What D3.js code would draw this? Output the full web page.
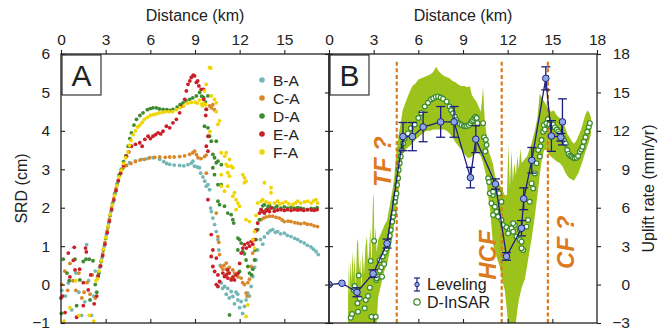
<!DOCTYPE html>
<html>
<head>
<meta charset="utf-8">
<script src="https://cdn.jsdelivr.net/npm/d3@7"></script>
<style>
    body { margin: 0; background: #fff; }
    svg text { font-family: "Liberation Sans", Arial, Helvetica, sans-serif; }
</style>
</head>
<body>
<svg id="chart" width="670" height="330"></svg>
<script>
// ---- panel A: SRD (cm) vs distance (km), [km, cm]
const srdBA = [
    [0.05, -0.15], [0.3, -0.3], [0.49, 0.04], [0.72, -0.66], [1.0, 0.3], [1.2, -0.2], [1.38, -0.8], [1.6, -0.45],
    [1.72, 1.04], [1.85, 0.1], [2.05, -0.8], [2.2, -0.3], [2.3, 0.35],
    [2.45, 0.2], [2.6, 0.45], [2.75, 0.7], [2.9, 1.0], [3.05, 1.3], [3.2, 1.6], [3.35, 1.9], [3.5, 2.15], [3.65, 2.4],
    [3.8, 2.65], [3.95, 2.85], [4.1, 3.0], [4.3, 3.1],
    [4.6, 3.17], [5.0, 3.22], [5.4, 3.26], [5.8, 3.28], [6.2, 3.3], [6.63, 3.26], [6.9, 3.2], [7.1, 3.15], [7.3, 3.13],
    [7.6, 3.11], [7.97, 3.1], [8.25, 3.09], [8.53, 3.12], [8.75, 3.16], [8.86, 3.21], [8.97, 3.08], [9.15, 3.06],
    [9.3, 3.04], [9.38, 2.9], [9.53, 2.8], [9.65, 2.69], [9.76, 2.56], [9.87, 2.6], [9.98, 2.47],
    [10.05, 1.99], [10.1, 1.9], [10.2, 1.73], [10.32, 1.56], [10.43, 1.38], [10.54, 1.17], [10.6, 0.9], [10.7, 0.5],
    [10.76, 0.04], [10.85, -0.1], [10.99, -0.05], [11.1, -0.25], [11.2, -0.1], [11.3, -0.35], [11.43, -0.18],
    [11.54, -0.31], [11.65, -0.5], [11.76, -0.2], [11.87, -0.25], [11.88, -0.4], [12.0, -0.6], [12.1, -0.44],
    [12.2, -0.75], [12.32, -0.57], [12.43, -0.4], [12.55, -0.22], [12.66, -0.3], [12.77, -0.05], [12.88, 0.21],
    [13.0, 0.45], [13.1, 0.64], [13.21, 0.9], [13.4, 1.17], [13.55, 1.05], [13.66, 1.24], [13.89, 1.34], [14.05, 1.4],
    [14.22, 1.43], [14.4, 1.36], [14.55, 1.38], [14.75, 1.32], [15.0, 1.34], [15.2, 1.28], [15.45, 1.25], [15.7, 1.2],
    [15.9, 1.17], [16.1, 1.12], [16.34, 1.08], [16.55, 1.02], [16.79, 0.98], [16.95, 0.92], [17.13, 0.86], [17.28, 0.78]
]
const srdCA = [
    [0.05, 0.0], [0.25, 0.35], [0.45, -0.15], [0.6, 0.55], [0.8, 0.1], [1.0, -0.15], [1.2, 0.3], [1.4, -0.35],
    [1.55, -0.2], [1.75, 0.05], [1.95, -0.25], [2.1, 0.25], [2.3, -0.35],
    [2.5, 0.25], [2.65, 0.5], [2.8, 0.8], [2.95, 1.1], [3.1, 1.4], [3.25, 1.7], [3.4, 2.0], [3.55, 2.25], [3.7, 2.5],
    [3.85, 2.72], [4.0, 2.9], [4.2, 3.05],
    [4.4, 3.1], [4.7, 3.15], [5.0, 3.2], [5.3, 3.24], [5.6, 3.26], [5.96, 3.3], [6.3, 3.31], [6.63, 3.32], [7.0, 3.31],
    [7.3, 3.32], [7.6, 3.32], [7.97, 3.33], [8.3, 3.35], [8.64, 3.39], [8.85, 3.43], [8.97, 3.47], [9.1, 3.38],
    [9.2, 3.3], [9.4, 3.28], [9.64, 3.33], [9.75, 3.37],
    [9.98, 4.65], [10.1, 4.6], [10.2, 4.68], [10.3, 4.55],
    [9.76, 2.9], [10.43, 1.86], [10.54, 1.25], [10.6, 1.1], [10.65, 0.78], [10.76, 0.47], [10.87, 0.4], [10.95, 0.5],
    [11.1, 0.4], [11.1, 0.56], [11.2, 0.3], [11.3, 0.45], [11.43, 0.16], [11.54, 0.38], [11.65, 0.3], [11.76, 0.25],
    [11.9, 0.2], [12.1, 0.17], [12.2, 0.05], [12.32, 0.0], [12.43, -0.22], [12.5, -0.3], [12.55, 0.05], [12.66, 0.14],
    [12.77, 0.47], [12.88, 0.82], [12.95, 1.17], [13.1, 1.43], [13.21, 1.6], [13.44, 1.69], [13.6, 1.73], [13.78, 1.76],
    [14.0, 1.78], [14.22, 1.78], [14.45, 1.75], [14.67, 1.73], [14.85, 1.68], [15.0, 1.64], [15.25, 1.65], [15.45, 1.64],
    [15.7, 1.61], [15.9, 1.6], [16.1, 1.58], [16.34, 1.6], [16.55, 1.57], [16.79, 1.56], [17.0, 1.53], [17.23, 1.51]
]
const srdDA = [
    [0.02, -0.75], [0.15, 0.66], [0.4, 0.3], [0.55, 0.1], [0.94, 0.66], [1.05, -0.55], [1.27, 0.12], [1.5, 0.6],
    [1.68, 0.66], [1.9, 0.66], [1.95, -0.4], [2.15, 0.62], [2.3, 0.0], [2.4, -0.2],
    [2.55, 0.3], [2.7, 0.6], [2.85, 0.9], [3.0, 1.2], [3.15, 1.5], [3.3, 1.8], [3.45, 2.1], [3.6, 2.35], [3.75, 2.6],
    [3.9, 2.85], [4.05, 3.0], [4.2, 3.2],
    [4.35, 3.35], [4.51, 3.6], [4.62, 3.8], [4.73, 3.95], [4.9, 4.15], [5.07, 4.3], [5.3, 4.4], [5.51, 4.47], [5.8, 4.55],
    [6.0, 4.58], [6.18, 4.6], [6.4, 4.6], [6.6, 4.57], [6.85, 4.56], [7.1, 4.55], [7.3, 4.53], [7.52, 4.56], [7.8, 4.62],
    [8.0, 4.68], [8.19, 4.73], [8.4, 4.78], [8.64, 4.82], [8.85, 4.86], [9.09, 4.91], [9.31, 5.0], [9.45, 4.9],
    [9.58, 4.87], [9.7, 4.75],
    [9.87, 4.91], [9.76, 4.56], [9.64, 4.12], [9.87, 4.08], [9.98, 3.86], [10.09, 3.73], [10.43, 3.73], [10.2, 3.39],
    [10.31, 3.3], [10.43, 3.17], [10.54, 3.21], [10.77, 3.12], [10.2, 3.04], [10.31, 2.86], [10.54, 2.6], [10.76, 2.6],
    [10.54, 2.17], [10.65, 2.08], [10.98, 2.04], [11.2, 1.86], [11.43, 1.82], [11.54, 1.69], [11.6, 1.6], [11.88, 1.21],
    [11.99, 1.17], [12.1, 1.08], [12.21, 0.86], [12.32, 0.8], [12.43, 0.64], [12.55, 0.47], [12.66, 0.3], [12.8, 0.25],
    [12.88, 0.4], [13.0, 0.64], [13.03, 0.9], [13.1, 1.17], [13.21, 1.43], [13.33, 1.69], [13.44, 1.95], [13.55, 2.05],
    [13.66, 2.08], [13.78, 1.95], [13.9, 2.02], [14.0, 2.08], [14.15, 2.0], [14.33, 1.99], [14.5, 2.04], [14.77, 1.99],
    [15.0, 2.02], [15.22, 1.99], [15.45, 2.01], [15.67, 1.99], [15.9, 2.0], [16.1, 1.99], [16.3, 1.97], [16.55, 1.95],
    [16.8, 1.98], [17.0, 1.97], [17.2, 2.0],
    [11.32, -0.79], [11.99, 0.34], [11.88, 0.9]
]
const srdEA = [
    [0.0, -0.35], [0.1, -0.3], [0.27, -0.73], [0.49, 0.82], [0.6, 0.2], [0.83, 0.63], [0.89, 0.97], [0.94, 0.38],
    [1.05, -0.85], [1.25, 0.4], [1.5, -0.55], [1.5, 0.05], [1.65, 0.95], [1.7, 0.85], [1.83, -0.14], [2.0, 0.25],
    [2.23, -0.5], [2.4, -0.3],
    [2.5, 0.22], [2.65, 0.48], [2.8, 0.75], [2.95, 1.05], [3.1, 1.35], [3.25, 1.65], [3.4, 1.95], [3.55, 2.2],
    [3.7, 2.45], [3.85, 2.7], [4.0, 2.9], [4.2, 3.1],
    [4.4, 3.34], [4.55, 3.45], [4.73, 3.6], [5.0, 3.65], [5.29, 3.69], [5.45, 3.6], [5.63, 3.78], [5.85, 3.86],
    [6.0, 3.8], [6.18, 3.86], [6.35, 3.9], [6.52, 3.95], [6.7, 3.92], [6.85, 3.99], [7.08, 4.12], [7.3, 4.08],
    [7.52, 4.21], [7.75, 4.3], [7.97, 4.47], [8.15, 4.65], [8.31, 4.82], [8.42, 5.04], [8.53, 5.21], [8.65, 5.3],
    [8.75, 5.39], [8.88, 5.45], [8.97, 5.43], [9.09, 5.26], [9.18, 5.3], [9.26, 5.17], [9.42, 5.08], [9.58, 5.08],
    [9.58, 4.82], [9.72, 4.4], [9.76, 4.56], [9.87, 3.86], [9.76, 3.6], [9.87, 3.47],
    [9.87, 2.21], [10.09, 1.3], [10.2, 0.9], [10.09, 0.73], [10.43, 0.69], [10.2, 0.47], [10.32, 0.34], [10.54, 0.25],
    [10.65, 0.08], [10.43, 0.0], [10.54, -0.05], [10.87, 0.3], [10.98, 0.21], [11.1, 0.25], [11.2, 0.17], [11.2, 0.38],
    [11.3, 0.3], [11.43, 0.12], [11.55, 0.2], [11.65, 0.12], [11.76, 0.25], [11.9, 0.3], [12.0, 0.55], [12.1, 0.82],
    [12.21, 0.95], [12.32, 1.04], [12.45, 0.95], [12.55, 1.08], [12.66, 1.0], [12.77, 1.12], [12.88, 1.05], [13.0, 1.17],
    [13.1, 1.4], [13.21, 1.6], [13.33, 1.86], [13.44, 1.95], [13.55, 1.9], [13.66, 1.86], [13.78, 1.92], [13.89, 1.95],
    [14.0, 1.9], [14.11, 1.99], [14.33, 1.91], [14.55, 1.94], [14.77, 1.95], [15.0, 1.93], [15.22, 1.95], [15.45, 1.93],
    [15.67, 1.95], [15.9, 1.94], [16.1, 1.95], [16.3, 1.93], [16.55, 1.95], [16.8, 1.94], [17.0, 1.93], [17.2, 1.95]
]
const srdFA = [
    [0.2, -0.95], [0.6, -0.6], [1.0, 0.1], [1.2, -0.8], [1.9, -0.8], [2.2, -0.95], [2.35, 0.1],
    [2.45, 0.15], [2.55, 0.35], [2.7, 0.62], [2.85, 0.92], [3.0, 1.22], [3.15, 1.52], [3.3, 1.82], [3.45, 2.08],
    [3.6, 2.33], [3.75, 2.58], [3.9, 2.8], [4.05, 2.98], [4.2, 3.15],
    [4.35, 3.3], [4.5, 3.45], [4.6, 3.62], [4.7, 3.75], [4.85, 3.9], [5.0, 4.0], [5.15, 4.1], [5.3, 4.15], [5.45, 4.22],
    [5.6, 4.3], [5.8, 4.35], [6.0, 4.4], [6.2, 4.42], [6.4, 4.44], [6.6, 4.47], [6.8, 4.48], [7.0, 4.5], [7.25, 4.5],
    [7.5, 4.5], [7.75, 4.55], [8.0, 4.6], [8.25, 4.65], [8.5, 4.72], [8.75, 4.74], [9.0, 4.75], [9.15, 4.72], [9.3, 4.8],
    [9.45, 4.7], [9.5, 4.65], [9.6, 4.72], [9.7, 4.68],
    [9.98, 5.65], [10.05, 5.63], [9.76, 5.21], [9.64, 5.04], [10.09, 4.91], [10.31, 4.82], [10.43, 4.73], [10.43, 4.5],
    [10.65, 4.26], [10.54, 4.17], [10.0, 3.98], [10.76, 3.43], [11.1, 3.43], [11.0, 3.34], [11.32, 3.26], [11.43, 3.08],
    [11.54, 3.04], [10.76, 2.86], [11.2, 2.91], [11.32, 2.82], [12.32, 2.78], [12.43, 2.69], [11.2, 2.56], [10.76, 2.56],
    [11.1, 3.13], [11.2, 3.08], [12.21, 2.86], [12.32, 2.65], [13.66, 2.65], [14.11, 2.52], [14.11, 2.39], [10.98, 2.43],
    [11.65, 2.39], [11.54, 2.3], [11.76, 2.21], [11.88, 2.12], [11.99, 2.04], [11.76, 1.95], [12.43, 1.69], [12.66, 1.64],
    [13.0, 1.38], [12.88, 1.17], [13.0, 0.95], [12.55, -0.53], [12.43, -0.83],
    [13.1, 1.8], [13.21, 2.12], [13.44, 2.17], [13.55, 2.21], [13.78, 2.15], [14.0, 2.12], [14.33, 2.12], [14.55, 2.17],
    [14.7, 2.1], [14.88, 2.12], [15.1, 2.15], [15.3, 2.1], [15.56, 2.08], [15.75, 2.12], [15.9, 2.17], [16.1, 2.12],
    [16.35, 2.15], [16.57, 2.17], [16.8, 2.12], [16.95, 2.18], [17.13, 2.21], [17.23, 2.12]
]
const pairNames = ["B-A", "C-A", "D-A", "E-A", "F-A"]
const pairColours = ["#72b7b5", "#d9872b", "#3e8b30", "#c81f28", "#f0d500"]

// ---- panel B: uplift rate (mm/yr)
const levelKm = [0, 0.87, 1.88, 2.96, 3.9, 4.97, 5.6, 6.32, 7.5, 8.4, 9.5, 9.86, 11.18, 11.92, 12.93, 13.08, 13.62, 14.56, 14.94, 15.57, 15.68]
const levelRate = [0, 0.1, -0.6, 0.85, 3.2, 11.55, 11.55, 12.3, 12.7, 12.7, 8.35, 11.35, 7.85, 2.2, 4.4, 6.7, 9.7, 16.1, 11.6, 11.5, 12.7]
const levelErr = [0.05, 0.05, 0.35, 0.3, 0.35, 1.1, 1.1, 1.15, 1.2, 1.2, 0.8, 1.05, 0.4, 0.3, 0.6, 0.85, 1.0, 0.9, 1.2, 0.3, 1.8]

const insar = [
    [1.46, -2.59], [1.55, -2.3], [1.66, -0.42], [1.73, -0.11], [1.91, -1.46], [1.95, -2.12], [2.0, 0.7], [2.06, -1.07],
    [2.4, -1.85], [2.47, -1.2], [2.62, -0.89], [2.74, -0.24], [2.8, 1.84], [2.85, -2.51], [3.03, 3.4], [3.14, -2.51],
    [3.18, 0.36], [3.3, 0.6], [3.41, 1.08], [3.52, 1.35], [3.56, 0.62], [3.7, 1.6],
    [3.2, 0.5], [3.4, 1.9], [3.6, 2.2], [3.75, 2.5], [3.86, 2.8], [3.95, 3.1], [4.0, 3.35], [4.08, 3.8], [4.15, 4.26],
    [4.24, 4.9], [4.3, 5.3], [4.35, 5.6], [4.42, 6.47], [4.47, 6.8], [4.53, 7.1], [4.57, 7.77], [4.64, 8.3], [4.68, 8.94],
    [4.75, 9.47], [4.82, 10.0], [4.88, 10.5], [4.97, 11.0], [5.08, 11.4],
    [5.3, 11.8], [5.5, 12.2], [5.76, 12.5], [6.0, 13.0], [6.2, 13.4], [6.43, 13.9], [6.65, 14.2], [6.85, 14.45], [7.0, 14.55],
    [7.17, 14.65], [7.33, 14.67], [7.5, 14.6], [7.66, 14.5], [7.9, 14.28], [8.1, 13.9], [8.2, 13.6], [8.33, 13.37],
    [8.45, 13.1], [8.56, 12.85], [8.67, 12.65], [8.78, 12.53], [8.9, 12.45], [9.05, 12.38], [9.15, 12.36], [9.27, 12.38],
    [9.4, 12.45], [9.5, 12.6], [9.6, 12.75], [9.68, 12.85], [9.76, 13.0], [9.84, 13.1], [9.92, 13.0], [9.97, 12.6],
    [10.35, 12.6], [10.42, 11.5], [10.53, 11.3], [10.58, 10.9], [10.5, 10.4], [10.69, 8.3], [10.75, 8.0], [10.9, 7.12],
    [11.0, 7.0], [10.8, 7.12], [11.02, 7.25], [10.91, 6.34], [11.14, 6.08], [11.25, 5.69], [11.02, 5.43], [11.36, 5.3],
    [11.58, 5.04], [11.69, 4.65], [11.92, 4.47], [12.14, 4.26], [12.26, 4.39], [12.37, 4.13], [12.03, 4.0], [12.48, 4.65],
    [12.59, 3.74], [12.82, 3.48], [12.93, 3.35], [11.58, 6.47], [11.42, 7.12], [12.37, 4.78], [12.82, 4.26], [13.04, 2.7],
    [12.93, 2.83], [13.27, 4.52], [13.37, 5.04], [13.48, 6.47], [13.6, 7.9], [13.71, 7.5], [13.82, 8.68], [13.94, 9.47],
    [14.05, 10.5], [14.16, 10.0], [14.2, 10.8], [14.27, 11.28], [14.38, 11.93], [14.43, 12.45], [14.5, 12.1], [14.6, 12.6],
    [14.7, 12.9], [14.8, 12.5], [14.94, 12.3], [15.05, 12.5], [15.17, 12.27], [15.3, 12.1], [15.4, 11.95], [15.5, 11.8],
    [15.6, 11.6], [15.72, 11.4], [15.8, 11.2], [15.9, 11.0], [16.0, 10.5], [16.1, 10.2], [16.2, 10.05], [16.3, 10.0],
    [16.4, 9.9], [16.5, 9.86], [16.62, 9.9], [16.73, 10.04], [16.85, 10.37], [16.95, 10.55], [17.03, 10.76],
    [17.12, 11.15], [17.23, 11.5], [17.34, 11.93], [17.45, 12.3], [17.52, 12.6]
]

// [km, low, high] of the D-InSAR uncertainty band
const insarBand = [
    [1.28, -3.5, 1.8], [1.35, -3.5, -1.0], [1.42, -3.5, 1.9], [1.5, -3.5, 0.2], [1.58, -3.5, 2.6], [1.65, -3.5, 0.5],
    [1.72, -3.5, 2.3], [1.8, -3.5, -0.2], [1.88, -3.5, 3.2], [1.95, -3.5, 3.6], [2.02, -3.5, 1.0], [2.1, -3.5, 2.0],
    [2.18, -3.5, -0.5], [2.25, -3.5, 2.6], [2.35, -3.5, 0.8], [2.45, -3.5, 3.0], [2.55, -3.5, 3.8], [2.62, -3.5, 1.5],
    [2.7, -3.5, 2.8], [2.78, -3.5, 4.5], [2.85, -3.5, 1.2], [2.95, -3.5, 6.5], [3.0, -3.5, 7.2], [3.05, -3.5, 3.0],
    [3.12, -3.5, 4.5], [3.2, -3.0, 2.5], [3.3, -1.0, 3.5], [3.5, 0.0, 4.0], [3.7, 1.0, 4.6], [3.9, 1.6, 5.0],
    [4.05, 2.4, 6.0], [4.2, 3.5, 7.0], [4.35, 4.5, 8.0], [4.5, 5.8, 10.0], [4.65, 7.0, 11.5], [4.8, 8.8, 12.5],
    [4.95, 10.2, 13.6], [5.2, 10.6, 14.4], [5.4, 10.8, 15.0], [5.6, 11.0, 15.5], [5.8, 11.3, 15.7], [6.0, 11.5, 16.0],
    [6.2, 11.7, 16.1], [6.4, 11.9, 16.2], [6.6, 12.0, 16.3], [6.8, 12.0, 16.4], [7.0, 12.1, 16.6], [7.2, 12.1, 17.0],
    [7.35, 12.1, 16.7], [7.5, 12.1, 16.5], [7.7, 12.1, 16.3], [7.9, 12.0, 16.2], [8.1, 11.8, 16.1], [8.3, 11.5, 15.9],
    [8.5, 11.1, 15.8], [8.7, 10.8, 15.6], [8.9, 10.5, 15.5], [9.1, 10.2, 15.5], [9.3, 9.9, 15.4], [9.45, 9.9, 15.5],
    [9.6, 10.0, 14.8], [9.75, 10.2, 14.5], [9.9, 10.4, 14.3], [10.05, 10.3, 13.9], [10.2, 10.0, 13.5],
    [10.35, 9.5, 15.4], [10.45, 9.0, 13.0], [10.55, 8.5, 12.0], [10.7, 6.8, 10.5], [10.85, 5.5, 10.0],
    [11.0, 3.2, 9.5], [11.15, 2.5, 8.5], [11.3, 2.0, 8.0], [11.47, 1.4, 7.8], [11.6, 0.5, 7.5], [11.8, -0.4, 7.0],
    [11.95, -2.0, 7.0], [12.05, -3.5, 10.9], [12.15, -3.5, 7.5], [12.25, -3.5, 10.5], [12.35, -3.5, 8.0],
    [12.45, -3.5, 9.5], [12.55, -3.0, 8.5], [12.65, -2.0, 10.0], [12.75, -1.2, 9.0], [12.85, -0.7, 10.6],
    [12.95, -0.2, 9.5], [13.15, 0.4, 9.8], [13.3, 1.4, 10.0], [13.45, 2.5, 10.5], [13.6, 3.5, 11.0], [13.82, 5.3, 12.0],
    [14.0, 7.0, 13.0], [14.15, 8.5, 14.9], [14.3, 9.8, 14.6], [14.45, 10.5, 14.3], [14.6, 10.5, 14.0], [14.75, 10.2, 13.8],
    [14.9, 10.0, 13.5], [15.1, 9.8, 13.6], [15.3, 9.6, 13.2], [15.5, 9.5, 13.0], [15.7, 9.2, 12.8], [15.85, 8.8, 12.3],
    [16.0, 8.5, 11.8], [16.15, 8.3, 11.5], [16.3, 8.2, 11.2], [16.45, 8.1, 11.0], [16.6, 8.4, 11.2], [16.75, 8.7, 11.6],
    [16.9, 9.2, 12.0], [17.05, 9.7, 12.6], [17.2, 10.3, 13.2], [17.35, 10.8, 13.6], [17.5, 11.3, 13.4], [17.6, 11.8, 13.0]
]

const faults = [
    { km: 4.55, name: "TF ?", at: 9.6 },
    { km: 11.6, name: "HCF", at: 2.3 },
    { km: 14.7, name: "CF ?", at: 3.3 }
]

const kmTicks = [0, 3, 6, 9, 12, 15, 18]
const srdTicks = [-1, 0, 1, 2, 3, 4, 5, 6]
const rateTicks = [-3, 0, 3, 6, 9, 12, 15, 18]

// ---- layout
const ink = "#222"
const faultColour = "#dc7a21"
const plotTop = 54, plotBottom = 323
const tickFont = 15.5, titleFont = 16

const xA = d3.scaleLinear().domain([0, 18]).range([61, 329])
const yA = d3.scaleLinear().domain([-1, 6]).range([plotBottom, plotTop])
const xB = d3.scaleLinear().domain([0, 18]).range([329, 597])
const yB = d3.scaleLinear().domain([-3, 18]).range([plotBottom, plotTop])

const svg = d3.select("#chart")

function styleAxis(g) {
    g.attr("font-family", null).attr("font-size", null)
    g.select(".domain").remove()
    g.selectAll("line").attr("stroke", ink).attr("stroke-width", 1.1)
    g.selectAll("text").attr("font-size", tickFont).attr("fill", ink)
}

// ---- panel A
const gA = svg.append("g")

pairNames.forEach((name, i) => {
    const pts = [srdBA, srdCA, srdDA, srdEA, srdFA][i]
    gA.append("g")
        .selectAll("circle")
        .data(pts)
        .join("circle")
        .attr("cx", (d) => xA(d[0]))
        .attr("cy", (d) => yA(d[1]))
        .attr("r", 1.9)
        .attr("fill", pairColours[i])
})

gA.append("g").attr("transform", `translate(0,${plotTop})`)
    .call(d3.axisTop(xA).tickValues(kmTicks.slice(0, 6)).tickSize(4).tickPadding(5)).call(styleAxis)
gA.append("g").attr("transform", "translate(61,0)")
    .call(d3.axisLeft(yA).tickValues(srdTicks).tickFormat(d3.format("d")).tickSize(-4).tickPadding(11)).call(styleAxis)
gA.append("g").attr("transform", `translate(0,${plotBottom})`)
    .call(d3.axisBottom(xA).tickValues(kmTicks.slice(1, 6)).tickSize(-4).tickFormat("")).call(styleAxis)
gA.append("g").attr("transform", "translate(329,0)")
    .call(d3.axisRight(yA).tickValues(srdTicks).tickSize(-4).tickFormat("")).call(styleAxis)

gA.append("text").attr("x", 195).attr("y", 21).attr("text-anchor", "middle")
    .attr("font-size", titleFont).attr("fill", ink).text("Distance (km)")
gA.append("text").attr("transform", "translate(27,188.5) rotate(-90)").attr("text-anchor", "middle")
    .attr("font-size", titleFont).attr("fill", ink).text("SRD (cm)")

const legA = gA.append("g")
    .selectAll("g")
    .data(pairNames)
    .join("g")
    .attr("transform", (d, i) => `translate(262,${80 + i * 18})`)
legA.append("circle").attr("r", 2.8).attr("fill", (d, i) => pairColours[i])
legA.append("text").attr("x", 11).attr("dy", "0.36em").attr("font-size", 15.5).attr("fill", ink).text((d) => d)

// ---- panel B
const gB = svg.append("g")
svg.append("defs").append("clipPath").attr("id", "clipB")
    .append("rect").attr("x", 329).attr("y", plotTop).attr("width", 268).attr("height", plotBottom - plotTop)

const plotB = gB.append("g").attr("clip-path", "url(#clipB)")

plotB.append("path")
    .datum(insarBand)
    .attr("fill", "#9cc31c")
    .attr("d", d3.area().x((d) => xB(d[0])).y0((d) => yB(d[1])).y1((d) => yB(d[2])))

plotB.append("g")
    .selectAll("line")
    .data(faults)
    .join("line")
    .attr("x1", (d) => xB(d.km)).attr("x2", (d) => xB(d.km))
    .attr("y1", yB(17.4)).attr("y2", plotBottom)
    .attr("stroke", faultColour).attr("stroke-width", 2.2).attr("stroke-dasharray", "4,2.6")

plotB.append("g")
    .selectAll("circle")
    .data(insar)
    .join("circle")
    .attr("cx", (d) => xB(d[0]))
    .attr("cy", (d) => yB(d[1]))
    .attr("r", 2.4)
    .attr("fill", "#fff")
    .attr("stroke", "#3a8a2c")
    .attr("stroke-width", 1.2)

const levelling = levelKm.map((km, i) => ({ km, rate: levelRate[i], err: levelErr[i] }))
const navy = "#1d1f7c"

plotB.append("path")
    .datum(levelling)
    .attr("fill", "none").attr("stroke", navy).attr("stroke-width", 1.3)
    .attr("d", d3.line().x((d) => xB(d.km)).y((d) => yB(d.rate)))

const bars = plotB.append("g")
    .selectAll("g")
    .data(levelling.filter((d) => d.err > 0.2))
    .join("g")
    .attr("stroke", navy).attr("stroke-width", 1.3)
bars.append("line")
    .attr("x1", (d) => xB(d.km)).attr("x2", (d) => xB(d.km))
    .attr("y1", (d) => yB(d.rate - d.err)).attr("y2", (d) => yB(d.rate + d.err))
bars.selectAll("line.cap")
    .data((d) => [d.rate - d.err, d.rate + d.err].map((v) => ({ km: d.km, v })))
    .join("line")
    .attr("class", "cap")
    .attr("x1", (d) => xB(d.km) - 4.5).attr("x2", (d) => xB(d.km) + 4.5)
    .attr("y1", (d) => yB(d.v)).attr("y2", (d) => yB(d.v))

plotB.append("g")
    .selectAll("circle")
    .data(levelling)
    .join("circle")
    .attr("cx", (d) => xB(d.km))
    .attr("cy", (d) => yB(d.rate))
    .attr("r", 3.3)
    .attr("fill", "#8da8e4")
    .attr("stroke", navy)
    .attr("stroke-width", 1)

gB.append("g")
    .selectAll("text")
    .data(faults)
    .join("text")
    .attr("transform", (d, i) => {
        const x = [382, 487, 565][i]
        return `translate(${x},${yB(d.at)}) rotate(-90)`
    })
    .attr("text-anchor", "middle").attr("dy", "0.36em")
    .attr("font-size", 24).attr("font-weight", "bold").attr("font-style", "italic")
    .attr("fill", faultColour)
    .text((d) => d.name)

gB.append("g").attr("transform", `translate(0,${plotTop})`)
    .call(d3.axisTop(xB).tickValues(kmTicks).tickSize(4).tickPadding(5)).call(styleAxis)
gB.append("g").attr("transform", "translate(329,0)")
    .call(d3.axisLeft(yB).tickValues(rateTicks).tickSize(-4).tickFormat("")).call(styleAxis)
gB.append("g").attr("transform", `translate(0,${plotBottom})`)
    .call(d3.axisBottom(xB).tickValues(kmTicks.slice(1, 6)).tickSize(-4).tickFormat("")).call(styleAxis)
gB.append("g").attr("transform", "translate(597,0)")
    .call(d3.axisRight(yB).tickValues(rateTicks).tickSize(4)).call(styleAxis)
    .call((g) => g.selectAll("text").attr("text-anchor", "end").attr("x", 33))

gB.append("text").attr("x", 463).attr("y", 21).attr("text-anchor", "middle")
    .attr("font-size", titleFont).attr("fill", ink).text("Distance (km)")
gB.append("text").attr("transform", "translate(654,188.5) rotate(-90)").attr("text-anchor", "middle")
    .attr("font-size", titleFont).attr("fill", ink).text("Uplift rate (mm/yr)")

const legB = gB.append("g").attr("transform", "translate(417,0)")
legB.append("line").attr("y1", 278).attr("y2", 291).attr("stroke", navy).attr("stroke-width", 1.2)
legB.selectAll("line.cap").data([278, 291]).join("line").attr("class", "cap")
    .attr("x1", -3).attr("x2", 3).attr("y1", (d) => d).attr("y2", (d) => d).attr("stroke", navy).attr("stroke-width", 1.2)
legB.append("circle").attr("cy", 284.5).attr("r", 2.2).attr("fill", "#8da8e4").attr("stroke", navy)
legB.append("circle").attr("cy", 302).attr("r", 3.2).attr("fill", "#fff").attr("stroke", "#3a8a2c").attr("stroke-width", 1.2)
legB.append("text").attr("x", 10).attr("y", 290).attr("font-size", 16).attr("fill", ink).text("Leveling")
legB.append("text").attr("x", 10).attr("y", 307.5).attr("font-size", 16).attr("fill", ink).text("D-InSAR")

// ---- frames and panel letters
svg.append("g")
    .selectAll("rect")
    .data([[61, 329], [329, 597]])
    .join("rect")
    .attr("x", (d) => d[0]).attr("y", plotTop)
    .attr("width", (d) => d[1] - d[0]).attr("height", plotBottom - plotTop)
    .attr("fill", "none").attr("stroke", ink).attr("stroke-width", 1.3)

const letters = svg.append("g")
    .selectAll("g")
    .data(["A", "B"])
    .join("g")
    .attr("transform", (d, i) => `translate(${[62, 330][i]},${plotTop + 1})`)
letters.append("rect").attr("width", 39).attr("height", 40).attr("fill", "#fff").attr("stroke", ink).attr("stroke-width", 1.1)
letters.append("text").attr("x", 19.5).attr("y", 31).attr("text-anchor", "middle")
    .attr("font-size", 30).attr("fill", ink).text((d) => d)
</script>
</body>
</html>
